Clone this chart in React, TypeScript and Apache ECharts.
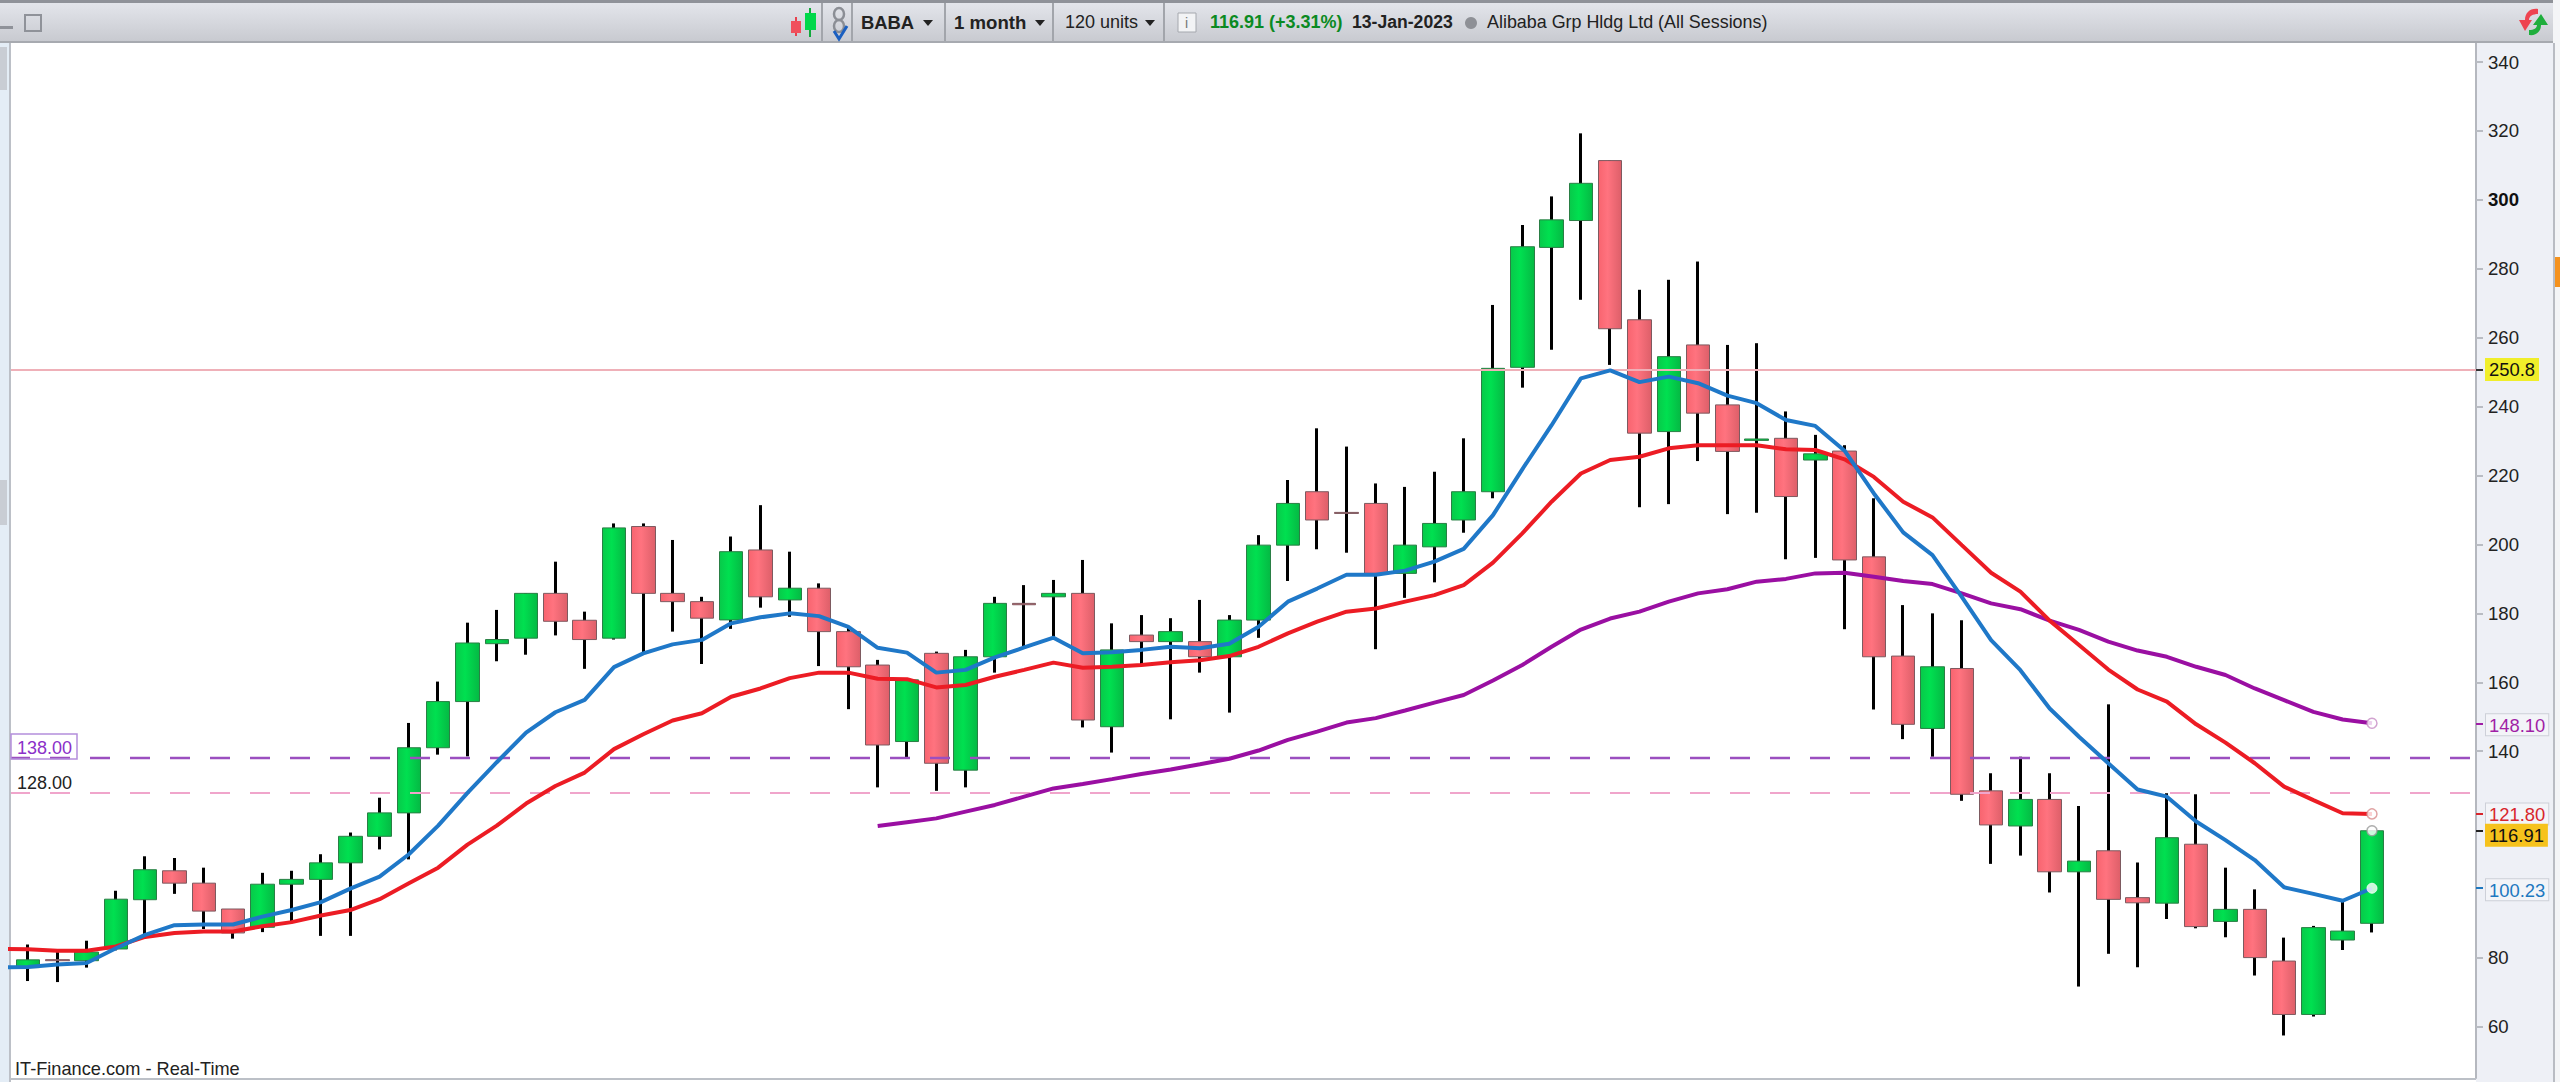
import React, { useEffect, useRef } from "react";
import * as echarts from "echarts";

const opens = [77.2, 79.5, 79.2, 82.6, 96.9, 105.3, 101.7, 94.2, 88.9, 101.4, 102.8, 107.6, 115.3, 122.1, 141, 154.4, 171.2, 172.8, 185.8, 178, 172.8, 205.2, 185.8, 183.4, 178.1, 198.4, 183.9, 187.3, 174.7, 165, 142.8, 168.4, 134.5, 167.4, 182.9, 184.8, 185.8, 147.1, 173.7, 171.8, 171.8, 167.4, 178.05, 199.8, 215.3, 209.3, 211.9, 191.6, 199.3, 207.1, 215.3, 251.4, 286.2, 294, 311.4, 265.2, 232.75, 257.9, 240.5, 230.2, 230.8, 224.5, 227.1, 196.4, 167.6, 146.6, 164, 128.5, 118.3, 126, 105, 111.1, 97.5, 95.9, 113, 90.6, 94.1, 79.1, 63.6, 85.2, 90.05];
const closes = [79.45, 79.2, 81.7, 97.05, 105.6, 101.7, 93.6, 87.25, 101.4, 102.8, 107.6, 115.3, 122.1, 141, 154.4, 171.4, 172.4, 185.8, 177.7, 172.4, 204.8, 185.8, 183.4, 178.6, 197.9, 184.8, 187.3, 174.7, 164.5, 141.8, 160.7, 136.5, 167.4, 182.9, 182.5, 185.8, 149.05, 169.4, 171.8, 174.7, 167.4, 178.05, 199.8, 211.9, 207.1, 209, 191.6, 199.8, 206.1, 215.3, 251.1, 286.4, 294.2, 304.8, 262.6, 232.3, 254.5, 238.1, 227, 230.6, 213.9, 226.3, 195.5, 167.4, 147.8, 164.5, 127.5, 118.6, 126, 105, 108.1, 97, 96, 114.9, 89.1, 94.1, 80.1, 63.6, 88.8, 87.8, 116.91];
const lows = [73.3, 73, 77.2, 82.2, 86.1, 98.6, 88.4, 85.6, 87.5, 90.6, 86.4, 86.4, 111.5, 108.6, 139, 138.5, 166.1, 168, 173.6, 163.9, 172.4, 168.4, 174.7, 165.3, 175.5, 181.65, 179, 164.7, 152.2, 129.5, 138.2, 128.5, 129.5, 162.8, 170.3, 173.2, 146.9, 139.6, 165.3, 149.25, 162.8, 151.2, 172.9, 189.4, 198.6, 197.6, 169.6, 184.5, 189, 203.4, 213.4, 245.5, 256.5, 271, 252.1, 210.8, 211.7, 224.2, 208.8, 209.2, 195.7, 196.1, 175.4, 152.1, 143.5, 138.4, 125.6, 107.3, 109.7, 99, 71.7, 81.2, 77.3, 91.3, 88.6, 86, 74.9, 57.5, 63, 82.3, 87.4];
const highs = [83.9, 81.7, 85, 99.5, 109.5, 109, 106.2, 94.2, 104.7, 105.3, 110.1, 116.4, 126.5, 148.2, 160.2, 177.3, 181, 185.8, 195, 180.5, 206.1, 206.1, 201.3, 184.8, 202.3, 211.4, 197.9, 188.7, 176, 166.5, 160.7, 168.9, 169.4, 184.8, 188.2, 189.7, 195.5, 177.1, 179.5, 178.6, 183.9, 179.5, 202.7, 218.7, 233.7, 228.4, 217.7, 216.7, 221.1, 230.8, 269.5, 292.7, 301, 319.3, 311.4, 273.9, 276.8, 282.1, 257.9, 258.4, 238.6, 231.8, 228.8, 213.4, 182.4, 180, 178, 133.6, 138.4, 133.6, 124.1, 153.6, 107.7, 127.8, 127.5, 106.2, 99.9, 85.9, 89.3, 96.6, 116.91];

// first value of the two long averages sits one period before the first candle
const maBlue = [77.3, 77.4, 78.1, 78.55, 82.8, 86.7, 89.5, 89.7, 89.7, 92, 93.9, 96.2, 100.1, 103.6, 110.1, 118.4, 127.9, 136.8, 145.4, 151.3, 154.9, 164.4, 168.4, 171, 172.3, 177.1, 178.85, 180, 179.2, 176.1, 170, 168.6, 162.8, 163.6, 167.2, 170.1, 172.95, 168.4, 168.7, 169.4, 170.3, 169.9, 171.2, 176.1, 183.4, 187.2, 191.2, 191.2, 192.4, 195, 198.7, 208.5, 221.8, 234.6, 248.2, 250.5, 247.1, 248.7, 246.8, 243.2, 241, 236.1, 234.4, 227.2, 214.8, 203.5, 196.9, 184.8, 172.25, 163.5, 152.4, 144.2, 136.5, 128.9, 126.8, 119.6, 114.2, 108.4, 100.5, 98.6, 96.6, 100.23];
const maRed = [82.6, 82.5, 82.1, 82.1, 83.35, 86.1, 87.25, 87.7, 87.7, 89.2, 90.4, 92.3, 93.9, 97.05, 101.7, 106.2, 112.9, 118.4, 124.8, 129.9, 133.8, 140.6, 144.9, 148.9, 151, 155.8, 158.2, 161.2, 162.8, 162.8, 161, 160.9, 158.5, 159.2, 161.6, 163.6, 165.7, 164.2, 164.5, 165, 165.8, 166.4, 167.6, 170.3, 174.2, 177.6, 180.5, 181.4, 183.4, 185.3, 188.2, 194.7, 203.2, 212.4, 220.6, 224.5, 225.45, 227.9, 228.8, 228.8, 228.8, 227.6, 227.4, 224.7, 219.6, 212.4, 207.85, 199.8, 191.8, 186.3, 177.9, 170.8, 163.7, 157.9, 154.4, 147.8, 142.5, 136.5, 129.7, 125.8, 122, 121.8];
const maPurple = [118.3, 119.4, 120.5, 122.45, 124.4, 126.8, 129.2, 130.5, 131.9, 133.4, 134.7, 136.2, 137.8, 140.2, 143.3, 145.7, 148.3, 149.6, 151.8, 154.1, 156.3, 160.5, 165, 170.3, 175.3, 178.5, 180.5, 183.4, 185.8, 187, 189.2, 190, 191.6, 191.8, 190.6, 189.4, 188.5, 185.8, 182.9, 181.2, 177.9, 175.2, 171.8, 169.2, 167.4, 164.5, 162.1, 158.2, 154.8, 151.4, 149.2, 148.1];
const purpleStart = 29;

const axisTicks = [340, 320, 300, 280, 260, 240, 220, 200, 180, 160, 140, 80, 60];
const levelPurple = 138;
const levelPink = 128;
const levelHigh = 250.8;
const yMin = 45.16;
const yMax = 345.52;
const xMin = -0.614;
const xMax = 83.55;

const flags = [
  { value: 250.8, text: "250.8", color: "#111", bg: "#f0ee2a", border: "#f0ee2a", tick: "#333", shift: 0 },
  { value: 148.1, text: "148.10", color: "#a01fa6", bg: "#f3f4f8", border: "#cdd0d8", tick: "#a01fa6", shift: 3 },
  { value: 100.23, text: "100.23", color: "#1e78c0", bg: "#f3f4f8", border: "#cdd0d8", tick: "#1e78c0", shift: 3 },
  { value: 121.8, text: "121.80", color: "#d8262c", bg: "#f3f4f8", border: "#cdd0d8", tick: "#d8262c", shift: 0 },
  { value: 116.91, text: "116.91", color: "#111", bg: "#f6c21c", border: "#f6c21c", tick: "#222", shift: 9 },
];

const FONT = "'Liberation Sans', Arial, sans-serif";

const txt = (text: string, x: number, y: number, opts: any = {}) => ({
  type: "text",
  x,
  y,
  z: 20,
  style: { text, fontFamily: FONT, fontSize: 18, fill: "#222", verticalAlign: "middle", ...opts },
});
const rc = (x: number, y: number, width: number, height: number, fill: any, z = -10, extra: any = {}) => ({
  type: "rect",
  z,
  shape: { x, y, width, height },
  style: { fill, ...extra },
});
const vline = (x: number, y1: number, y2: number, stroke: string, lineWidth = 2, z = 20) => ({
  type: "line",
  z,
  shape: { x1: x, y1, x2: x, y2 },
  style: { stroke, lineWidth },
});
const tri = (x: number, y = 20) => ({
  type: "polygon",
  z: 20,
  shape: { points: [[x - 5, y], [x + 5, y], [x, y + 6]] },
  style: { fill: "#222" },
});

export default function App() {
  const ref = useRef<HTMLDivElement>(null);
  useEffect(() => {
    document.body.style.margin = "0";
    echarts.graphic.registerShape(
      "refreshRed",
      echarts.graphic.extendPath("M2538 9 C2530 8 2525 13 2525 20 L2519 20 L2525 31 L2532 20 L2529 20 C2529 16 2533 14 2538 14 Z", {})
    );
    echarts.graphic.registerShape(
      "refreshGreen",
      echarts.graphic.extendPath("M2529 35 C2537 36 2541 31 2541 25 L2548 25 L2541 14 L2533 25 L2537 25 C2537 28 2534 30 2529 30 Z", {})
    );
    const chart = echarts.init(ref.current!, undefined, { renderer: "svg" });

    const candleBase = opens.map((o, i) => i);
    const wickData = candleBase.map((i) => [i, opens[i], closes[i], lows[i], highs[i]]);
    const bodyData = candleBase.map((i) => [
      i,
      opens[i],
      closes[i],
      Math.min(opens[i], closes[i]),
      Math.max(opens[i], closes[i]),
    ]);
    const greenFill = new echarts.graphic.LinearGradient(0, 0, 1, 0, [
      { offset: 0, color: "#08c94a" },
      { offset: 0.4, color: "#00e050" },
      { offset: 1, color: "#05b944" },
    ]);
    const redFill = new echarts.graphic.LinearGradient(0, 0, 1, 0, [
      { offset: 0, color: "#f8646f" },
      { offset: 0.4, color: "#ff737f" },
      { offset: 1, color: "#dd5f69" },
    ]);
    const last = opens.length - 1;
    const toolbarFill = new echarts.graphic.LinearGradient(0, 0, 0, 1, [
      { offset: 0, color: "#e5e7ed" },
      { offset: 1, color: "#c7c9cf" },
    ]);

    const graphicEls: any[] = [
      rc(0, 43, 9, 1039, "#e4edf6"),
      rc(0, 47, 7, 43, "#c9cdd4"),
      rc(0, 480, 7, 45, "#c9cdd4"),
      rc(9, 43, 2, 1039, "#bcc0c7", 5),
      rc(2476, 43, 77, 1039, "#eef0f6"),
      rc(2553, 0, 7, 1082, "#f4f5f7"),
      rc(2553, 43, 2, 1039, "#b9bcc3", 5),
      rc(2555, 257, 5, 30, "#f5921e", 5),
      rc(10, 1078, 2466, 2, "#bcc0c7", 5),
      rc(0, 0, 2553, 43, toolbarFill, 10),
      rc(0, 0, 2553, 3, "#8f9299", 11),
      rc(0, 41, 2553, 2, "#a7aab0", 11),
      // window buttons
      rc(0, 26, 13, 3, "#8f9299", 12),
      rc(25, 15, 16, 16, "none", 12, { stroke: "#8f9299", lineWidth: 2 }),
      // candle icon
      vline(796, 17, 36, "#e8414e", 2),
      rc(791, 21, 10, 12, "#f0505c", 21),
      vline(810, 8, 37, "#12a93c", 2),
      rc(805, 13, 11, 17, "#00d84a", 21),
      // chain icon
      vline(822, 3, 41, "#a2a5ab", 2),
      { type: "ellipse", z: 20, shape: { cx: 839, cy: 14, rx: 5, ry: 6 }, style: { fill: "none", stroke: "#8b8e95", lineWidth: 2.5 } },
      { type: "ellipse", z: 20, shape: { cx: 839, cy: 26, rx: 5, ry: 6 }, style: { fill: "none", stroke: "#8b8e95", lineWidth: 2.5 } },
      { type: "polyline", z: 21, shape: { points: [[834, 31], [839, 39], [847, 26]] }, style: { fill: "none", stroke: "#1a5fc0", lineWidth: 3 } },
      vline(852, 3, 41, "#a2a5ab", 2),
      txt("BABA", 861, 22, { fontWeight: "bold", fontSize: 18.4 }),
      tri(928),
      vline(945, 3, 41, "#a2a5ab", 2),
      txt("1 month", 954, 22, { fontWeight: "bold", fontSize: 18.6 }),
      tri(1040),
      vline(1053, 3, 41, "#a2a5ab", 2),
      txt("120 units", 1065, 22),
      tri(1150),
      vline(1164, 3, 41, "#a2a5ab", 2),
      rc(1178, 13, 18, 19, "#f2f3f5", 20, { stroke: "#a5a8ae", lineWidth: 1 }),
      txt("i", 1185, 23, { fontSize: 14, fill: "#777" }),
      txt("116.91 (+3.31%)", 1210, 22, { fontWeight: "bold", fill: "#0b8a22" }),
      txt("13-Jan-2023", 1352, 22, { fontWeight: "bold", fontSize: 17.6 }),
      { type: "circle", z: 20, shape: { cx: 1471, cy: 23, r: 6 }, style: { fill: "#8e9096" } },
      txt("Alibaba Grp Hldg Ltd (All Sessions)", 1487, 22, { fontSize: 17.9 }),
      { type: "refreshRed", x: 0, y: 0, z: 22, style: { fill: "#ee4350" } },
      { type: "refreshGreen", x: 0, y: 0, z: 23, style: { fill: "#1fae3c" } },
      // level captions
      rc(11, 734, 66, 25, "none", 20, { stroke: "#b48fdc", lineWidth: 1.5 }),
      txt("138.00", 17, 748, { fill: "#8b2fc9" }),
      txt("128.00", 17, 783, { fill: "#222" }),
      txt("IT-Finance.com - Real-Time", 15, 1069, { fontSize: 18.2, fill: "#222" }),
    ];

    const flagAxes = flags.map((f) => ({
      type: "value",
      position: "right",
      min: yMin,
      max: yMax,
      axisLine: { show: false, onZero: false },
      splitLine: { show: false },
      axisTick: { show: true, length: 7, customValues: [f.value], lineStyle: { color: f.tick, width: 2 } },
      axisLabel: {
        show: true,
        margin: 10,
        customValues: [f.value],
        padding: [f.shift, 0, 0, 0],
        formatter: () => `{f|${f.text}}`,
        rich: {
          f: {
            fontFamily: FONT,
            fontSize: 18.4,
            lineHeight: 20,
            color: f.color,
            backgroundColor: f.bg,
            borderColor: f.border,
            borderWidth: 1,
            padding: [2, 3, 1, 3],
          },
        },
      },
    }));

    chart.setOption({
      animation: false,
      backgroundColor: "#ffffff",
      grid: { left: 10, right: 84, top: 43, bottom: 4, containLabel: false },
      xAxis: { type: "value", min: xMin, max: xMax, show: false, splitLine: { show: false } },
      yAxis: [
        {
          type: "value",
          position: "right",
          min: yMin,
          max: yMax,
          splitLine: { show: false },
          axisLine: { show: true, onZero: false, lineStyle: { color: "#b5b8bf", width: 2 } },
          axisTick: { show: true, length: 7, customValues: axisTicks, lineStyle: { color: "#b9bcc3", width: 2 } },
          axisLabel: {
            show: true,
            margin: 12,
            customValues: axisTicks,
            formatter: (v: number) => (v === 300 ? `{b|${v}}` : `{n|${v}}`),
            rich: {
              n: { fontFamily: FONT, fontSize: 18.6, color: "#222" },
              b: { fontFamily: FONT, fontSize: 18.6, color: "#111", fontWeight: "bold" },
            },
          },
        },
        ...flagAxes,
      ],
      graphic: { elements: graphicEls },
      series: [
        {
          name: "wick",
          type: "candlestick",
          barWidth: 1,
          z: 2,
          encode: { x: 0, y: [1, 2, 3, 4] },
          itemStyle: { color: "#000", color0: "#000", borderColor: "#000", borderColor0: "#000", borderWidth: 3 },
          data: wickData,
        },
        {
          name: "body",
          type: "candlestick",
          barWidth: 24,
          z: 3,
          encode: { x: 0, y: [1, 2, 3, 4] },
          itemStyle: { color: greenFill, color0: redFill, borderColor: "#2a7f45", borderColor0: "#7d5a60", borderWidth: 1 },
          data: bodyData,
        },
        {
          name: "levels",
          type: "line",
          data: [],
          z: 4,
          markLine: {
            silent: true,
            symbol: "none",
            z: 4,
            label: { show: false },
            data: [
              { yAxis: levelPurple, lineStyle: { color: "#9b4fc0", width: 2.4, type: [20, 20] } },
              { yAxis: levelPink, lineStyle: { color: "#f0a5cb", width: 2, type: [20, 20] } },
              { yAxis: levelHigh, lineStyle: { color: "#efb0b8", width: 2, type: "solid" } },
            ],
          },
        },
        {
          name: "MA purple",
          type: "line",
          z: 5,
          showSymbol: false,
          lineStyle: { color: "#9a0fa2", width: 4 },
          data: maPurple.map((v, i) => [i + purpleStart, v]),
        },
        {
          name: "MA red",
          type: "line",
          z: 6,
          showSymbol: false,
          lineStyle: { color: "#ec1c24", width: 4 },
          data: maRed.map((v, i) => [i - 1, v]),
        },
        {
          name: "MA blue",
          type: "line",
          z: 7,
          showSymbol: false,
          lineStyle: { color: "#1f78c8", width: 4 },
          data: maBlue.map((v, i) => [i - 1, v]),
        },
        {
          name: "last values",
          type: "scatter",
          z: 8,
          symbolSize: 10,
          data: [
            { value: [last, maPurple[maPurple.length - 1]], itemStyle: { color: "#fff", borderColor: "#c78cc4", borderWidth: 1.5 } },
            { value: [last, maRed[maRed.length - 1]], itemStyle: { color: "#fff", borderColor: "#d98e8e", borderWidth: 1.5 } },
            { value: [last, closes[last]], itemStyle: { color: "#fff", borderColor: "#9a9a9a", borderWidth: 1.5 } },
            { value: [last, maBlue[maBlue.length - 1]], itemStyle: { color: "#fff", borderColor: "#fff", borderWidth: 1 } },
          ],
        },
      ],
    });
    return () => chart.dispose();
  }, []);
  return <div ref={ref} style={{ position: "absolute", left: 0, top: 0, width: 2560, height: 1082 }} />;
}
